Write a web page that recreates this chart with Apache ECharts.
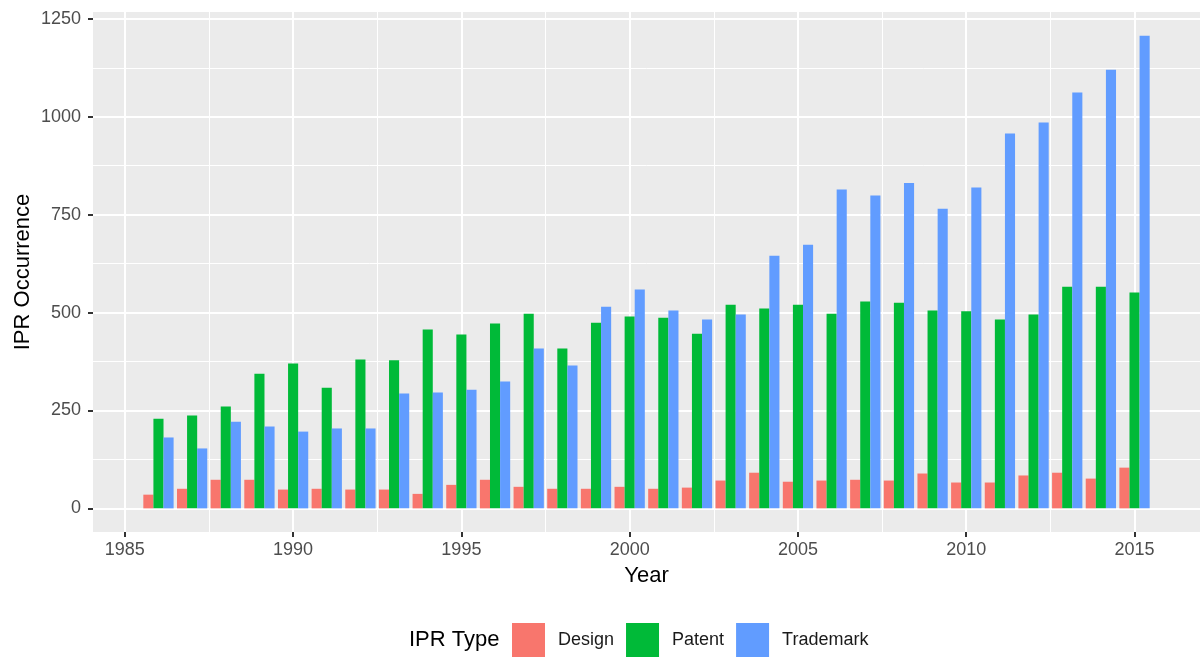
<!DOCTYPE html>
<html>
<head>
<meta charset="utf-8">
<script src="https://cdn.jsdelivr.net/npm/echarts@6/dist/echarts.min.js"></script>
<style>
  html, body { margin: 0; padding: 0; background: #fff; }
  #chart { width: 1201px; height: 657px; }
</style>
</head>
<body>
<div id="chart"></div>
<script>
// ---- data ----
var years = [1986,1987,1988,1989,1990,1991,1992,1993,1994,1995,1996,1997,1998,1999,2000,
             2001,2002,2003,2004,2005,2006,2007,2008,2009,2010,2011,2012,2013,2014,2015];
var design    = [35,50,73,73,48,50,48,48,37,60,73,55,50,50,55,50,53,71,91,68,71,73,71,89,66,66,84,91,76,104];
var patent    = [229,237,260,344,370,308,380,378,457,444,472,497,408,474,490,487,446,520,510,520,497,528,525,505,503,482,495,566,566,551];
var trademark = [181,153,221,209,196,204,204,293,296,303,324,408,365,515,559,505,482,495,645,673,814,799,831,765,819,957,985,1062,1120,1207];
var seriesNames = ['Design','Patent','Trademark'];
var xTicks = [1985,1990,1995,2000,2005,2010,2015];
var xMinor = [1987.5,1992.5,1997.5,2002.5,2007.5,2012.5];
var yTicks = [0,250,500,750,1000,1250];
var yMinor = [125,375,625,875,1125];

// ---- styling ----
var colors = ['#F8766D','#00BA38','#619CFF'];
var FONT = '"Liberation Sans", Arial, Helvetica, sans-serif';
var dodge = 0.9 / 3; // width of each bar (years)

var xLo = years[0] - 0.45, xHi = years[years.length-1] + 0.45;
var xPad = (xHi - xLo) * 0.05;
var yMaxData = Math.max.apply(null, design.concat(patent, trademark));
var yPad = yMaxData * 0.05;

function mk(arr){ return years.map(function(y,i){ return [y, arr[i]]; }); }
var dataSets = [design, patent, trademark];
function plain(v){ return String(Math.round(v * 10) / 10); }

function renderItem(params, api) {
  var offset = (params.seriesIndex - 1) * dodge;
  var x = api.value(0) + offset, v = api.value(1);
  var p0 = api.coord([x - dodge/2, v]);
  var p1 = api.coord([x + dodge/2, 0]);
  return {
    type: 'rect',
    shape: { x: p0[0], y: p0[1], width: p1[0] - p0[0], height: p1[1] - p0[1] },
    style: { fill: api.visual('color') }
  };
}

var hiddenLine = { show: true, onZero: false, lineStyle: { color: 'rgba(0,0,0,0)', width: 0 } };

var chart = echarts.init(document.getElementById('chart'), null, { renderer: 'canvas' });
var option = {
  animation: false,
  backgroundColor: '#ffffff',
  textStyle: { fontFamily: FONT },
  title: {
    text: 'IPR Type', left: 409, top: 629, padding: 0,
    textStyle: { fontSize: 22, fontWeight: 'normal', color: '#000', fontFamily: FONT }
  },
  legend: {
    left: 512, top: 623, padding: 0,
    itemWidth: 33, itemHeight: 34, itemGap: 12,
    icon: 'rect',
    data: seriesNames,
    textStyle: { fontSize: 18, color: '#1a1a1a', fontFamily: FONT, padding: [0,0,0,8] }
  },
  grid: {
    left: 93, right: 1, top: 12, bottom: 125,
    show: true, backgroundColor: '#EBEBEB', borderWidth: 0,
    containLabel: false
  },
  xAxis: [{
    type: 'value', min: xLo - xPad, max: xHi + xPad, position: 'bottom',
    name: 'Year', nameLocation: 'middle', nameGap: 33, nameMoveOverlap: false,
    nameTextStyle: { fontSize: 22, color: '#000', fontFamily: FONT },
    axisLine: hiddenLine,
    axisTick: { show: true, inside: false, length: 5, lineStyle: { color: '#333333', width: 2 }, customValues: xTicks },
    axisLabel: { show: true, fontSize: 18, color: '#4D4D4D', margin: 9, fontFamily: FONT, customValues: xTicks, formatter: plain },
    splitLine: { show: true, lineStyle: { color: '#ffffff', width: 2 } }
  }, {
    type: 'value', min: xLo - xPad, max: xHi + xPad, position: 'top',
    axisLine: { show: false, onZero: false },
    axisTick: { show: false, customValues: xMinor },
    axisLabel: { show: false, customValues: xMinor },
    splitLine: { show: true, lineStyle: { color: '#ffffff', width: 1 } }
  }],
  yAxis: [{
    type: 'value', min: -yPad, max: yMaxData + yPad, position: 'left',
    name: 'IPR Occurrence', nameLocation: 'middle', nameGap: 59, nameRotate: 90, nameMoveOverlap: false,
    nameTextStyle: { fontSize: 22, color: '#000', fontFamily: FONT },
    axisLine: hiddenLine,
    axisTick: { show: true, inside: false, length: 5, lineStyle: { color: '#333333', width: 2 }, customValues: yTicks },
    axisLabel: { show: true, fontSize: 18, color: '#4D4D4D', margin: 12, fontFamily: FONT, customValues: yTicks, formatter: plain },
    splitLine: { show: true, lineStyle: { color: '#ffffff', width: 2 } }
  }, {
    type: 'value', min: -yPad, max: yMaxData + yPad, position: 'right',
    axisLine: { show: false, onZero: false },
    axisTick: { show: false, customValues: yMinor },
    axisLabel: { show: false, customValues: yMinor },
    splitLine: { show: true, lineStyle: { color: '#ffffff', width: 1 } }
  }],
  series: seriesNames.map(function(name, i){
    return {
      type: 'custom', name: name,
      xAxisIndex: 0, yAxisIndex: 0,
      renderItem: renderItem,
      itemStyle: { color: colors[i] },
      encode: { x: 0, y: 1 },
      data: mk(dataSets[i]),
      z: 5
    };
  })
};
chart.setOption(option);
</script>
</body>
</html>
